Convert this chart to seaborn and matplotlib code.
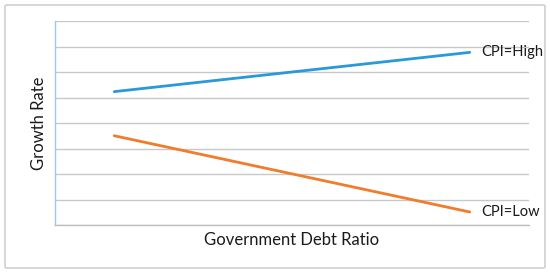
import matplotlib
matplotlib.use('Agg')
from matplotlib import pyplot as plt
from matplotlib.patches import FancyBboxPatch
import seaborn as sns
import pandas as pd

# Data
debt_ratio = [1, 7]
growth_high = [5.23, 6.77]
growth_low = [3.5, 0.51]
series_names = ['CPI=High', 'CPI=Low']
colors = ['#2a9ad6', '#f07c2c']

df = pd.DataFrame({
    'debt': debt_ratio * 2,
    'growth': growth_high + growth_low,
    'cpi': [series_names[0]] * 2 + [series_names[1]] * 2,
})

sns.set_style('white')
plt.rcParams['font.family'] = ['Lato', 'DejaVu Sans']

fig = plt.figure(figsize=(5.5, 2.73), dpi=100)
ax = fig.add_axes([55 / 550, 1 - 225 / 273, 474 / 550, 204 / 273])

sns.lineplot(data=df, x='debt', y='growth', hue='cpi', palette=colors,
             linewidth=2, legend=False, ax=ax)

ax.set_xlim(0, 8)
ax.set_ylim(0, 8)
ax.set_yticks(range(0, 9))
ax.set_xticks([])
ax.tick_params(left=False, labelleft=False)
ax.grid(axis='y', color='#c8c8c8', linewidth=1)
for s in ['top', 'right']:
    ax.spines[s].set_visible(False)
ax.spines['left'].set_color('#9cc8ea')
ax.spines['left'].set_linewidth(1)
ax.spines['bottom'].set_color('#c0c0c0')
ax.spines['bottom'].set_linewidth(1)

ax.set_xlabel('Government Debt Ratio', fontsize=12, color='#1a1a1a', labelpad=5)
ax.set_ylabel('Growth Rate', fontsize=12, color='#1a1a1a', labelpad=6)

for name, vals, c in zip(series_names, [growth_high, growth_low], colors):
    ax.annotate(name, xy=(debt_ratio[-1], vals[-1]), xytext=(8.5, 0),
                textcoords='offset points', va='center', ha='left',
                fontsize=10.5, color='#1a1a1a', annotation_clip=False)

frame = FancyBboxPatch((5 / 550, 5 / 273), 540 / 550, 263 / 273,
                       boxstyle='round,pad=0,rounding_size=0.004',
                       transform=fig.transFigure, facecolor='none',
                       edgecolor='#d0d0d0', linewidth=1.2)
fig.patches.append(frame)

fig.savefig('out.png', dpi=100)
